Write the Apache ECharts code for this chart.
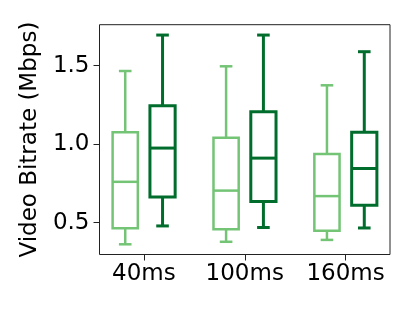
<!DOCTYPE html>
<html>
<head>
<meta charset="utf-8">
<script src="https://cdn.jsdelivr.net/npm/echarts@6/dist/echarts.min.js"></script>
<style>html,body{margin:0;padding:0;background:#fff}#c{width:415px;height:312px}</style>
</head>
<body>
<div id="c"></div>
<script>
// categories and tick labels
const categories = ['40ms', '100ms', '160ms'];
const yTicks = [0.5, 1.0, 1.5];
// box stats per category: [min, Q1, median, Q3, max]
const lightBoxes = [
  [0.362, 0.464, 0.760, 1.076, 1.466],
  [0.378, 0.458, 0.704, 1.040, 1.496],
  [0.390, 0.448, 0.669, 0.938, 1.375]
];
const darkBoxes = [
  [0.479, 0.664, 0.975, 1.244, 1.695],
  [0.469, 0.635, 0.911, 1.206, 1.695],
  [0.466, 0.611, 0.845, 1.076, 1.589]
];

const FONT = 'DejaVu Sans';
const FS = 23;
const BOX_W = 0.25;
const OFFSET = 0.185;

function makeRender(offset, color, lw) {
  return function (params, api) {
    const x = api.value(0) + offset;
    const mn = api.value(1), q1 = api.value(2), md = api.value(3), q3 = api.value(4), mx = api.value(5);
    const halfBox = api.size([BOX_W / 2, 0])[0];
    const halfCap = halfBox / 2;
    const c = api.coord([x, 0])[0];
    const y = v => api.coord([x, v])[1];
    const style = { stroke: color, lineWidth: lw, fill: null };
    const line = (x1, y1, x2, y2) => ({ type: 'line', shape: { x1, y1, x2, y2 }, style });
    return {
      type: 'group',
      children: [
        line(c, y(mn), c, y(q1)),
        line(c, y(q3), c, y(mx)),
        line(c - halfCap, y(mn), c + halfCap, y(mn)),
        line(c - halfCap, y(mx), c + halfCap, y(mx)),
        { type: 'rect', shape: { x: c - halfBox, y: y(q3), width: 2 * halfBox, height: y(q1) - y(q3) }, style },
        line(c - halfBox, y(md), c + halfBox, y(md))
      ]
    };
  };
}

const lightData = lightBoxes.map((b, i) => [i + 1].concat(b));
const darkData = darkBoxes.map((b, i) => [i + 1].concat(b));

const chart = echarts.init(document.getElementById('c'), null, { renderer: 'canvas' });
chart.setOption({
  animation: false,
  backgroundColor: '#fff',
  grid: { left: 99.5, right: 25, top: 24.7, bottom: 57.5, show: true, borderColor: '#222', borderWidth: 1, backgroundColor: 'transparent' },
  xAxis: {
    type: 'value', min: 0.56, max: 3.44,
    axisLine: { show: false },
    splitLine: { show: false },
    axisTick: { show: true, customValues: [1, 2, 3], length: 6, lineStyle: { color: '#222', width: 1 } },
    axisLabel: { customValues: [1, 2, 3], formatter: v => categories[Math.round(v) - 1], fontFamily: FONT, fontSize: FS, color: '#000', margin: 8 }
  },
  yAxis: {
    type: 'value', min: 0.297, max: 1.761,
    name: 'Video Bitrate (Mbps)', nameLocation: 'middle', nameGap: 45, nameRotate: 90,
    nameTextStyle: { fontFamily: FONT, fontSize: FS, color: '#000' },
    axisLine: { show: false },
    splitLine: { show: false },
    axisTick: { show: true, customValues: yTicks, length: 6, lineStyle: { color: '#222', width: 1 } },
    axisLabel: { customValues: yTicks, formatter: v => v.toFixed(1), fontFamily: FONT, fontSize: FS, color: '#000', margin: 10 }
  },
  series: [
    { type: 'custom', data: lightData, renderItem: makeRender(-OFFSET, '#74c476', 2.5), encode: { x: 0, y: [1, 2, 3, 4, 5] } },
    { type: 'custom', data: darkData, renderItem: makeRender(OFFSET, '#006d2c', 3), encode: { x: 0, y: [1, 2, 3, 4, 5] } }
  ]
});
</script>
</body>
</html>
